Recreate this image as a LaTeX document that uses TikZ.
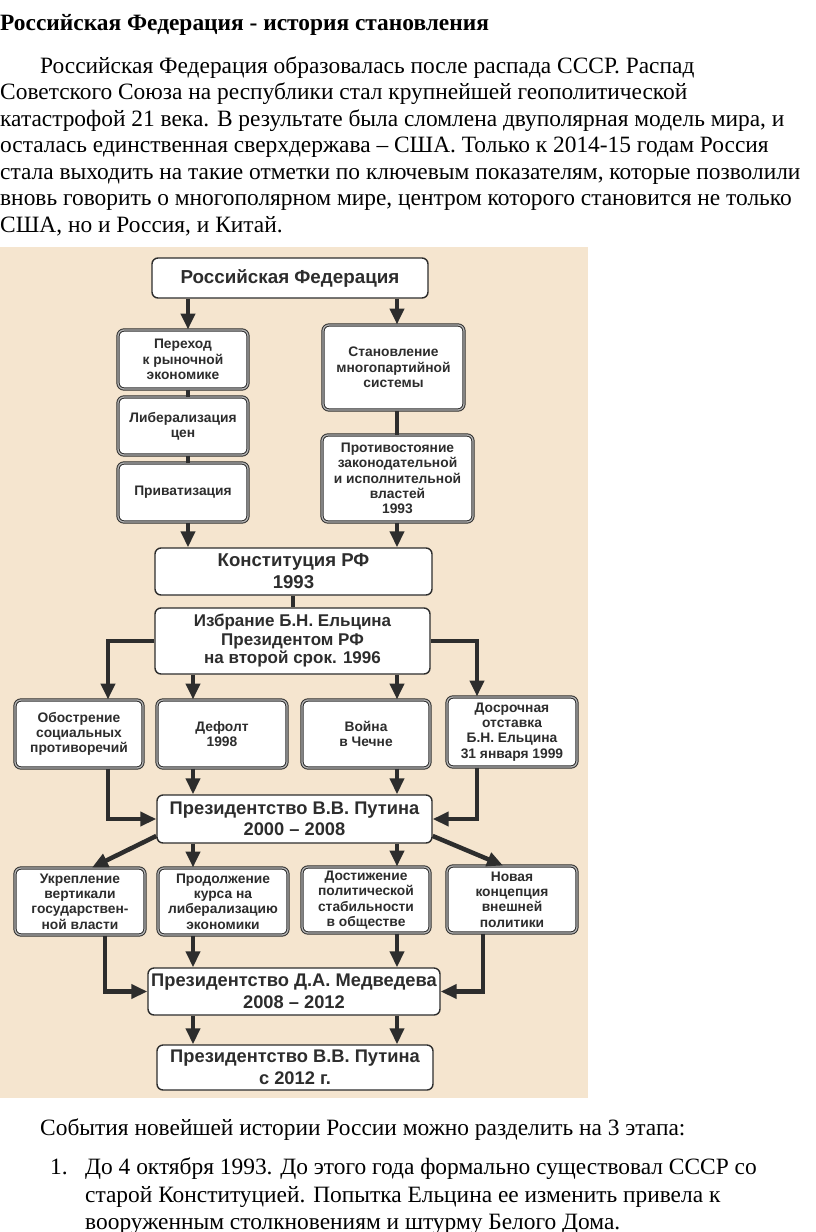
\documentclass[tikz,border=0pt]{standalone}
\usepackage{fontspec}
\setmainfont{Liberation Serif}
\newfontfamily\diagfont{Liberation Sans}
\usetikzlibrary{arrows.meta,calc}
\definecolor{beige}{RGB}{245,229,207}
\definecolor{ink}{RGB}{45,45,45}
\begin{document}
\begin{tikzpicture}[x=1pt,y=-1pt,
  box/.style={draw=ink, line width=1.4pt, rounded corners=6pt, fill=white, inner sep=0pt, align=center, text=ink, font=\diagfont\bfseries\fontsize{18.3}{21.5}\selectfont},
  sbox/.style={box, double=black!30, double distance=1.3pt, line width=1pt, font=\diagfont\bfseries\fontsize{13.8}{15.3}\selectfont},
  arr/.style={draw=ink, line width=4.5pt, -{Triangle[width=14pt,length=16pt]}},
  lnk/.style={draw=ink, line width=4.5pt},
  body/.style={anchor=base west, inner sep=0pt, font=\fontsize{23.4}{27}\selectfont},
]
\useasboundingbox (0,0) rectangle (816,1232);
\fill[white] (0,0) rectangle (816,1232);
% text above
\node[body, font=\bfseries\fontsize{23.4}{27}\selectfont] (title) at (0,30) {Российская Федерация - история становления};
\node[body] (l1) at (40,73) {Российская Федерация образовалась после распада СССР. Распад};
\node[body] (l2) at (0,99.5) {Советского Союза на республики стал крупнейшей геополитической};
\node[body] (l3) at (0,126) {катастрофой 21 века. В результате была сломлена двуполярная модель мира, и};
\node[body] (l4) at (0,152.5) {осталась единственная сверхдержава – США. Только к 2014-15 годам Россия};
\node[body] (l5) at (0,179) {стала выходить на такие отметки по ключевым показателям, которые позволили};
\node[body] (l6) at (0,205.5) {вновь говорить о многополярном мире, центром которого становится не только};
\node[body] (l7) at (0,232) {США, но и Россия, и Китай.};
% background of diagram
\fill[beige] (0,247) rectangle (588,1098);
% boxes
\node[box, minimum width=276pt, minimum height=40pt, font=\diagfont\bfseries\fontsize{18.8}{21}\selectfont] (rf) at (290,278) {Российская Федерация};
\node[sbox, minimum width=130pt, minimum height=59pt] (per) at (183,359.5) {Переход\\к рыночной\\экономике};
\node[sbox, minimum width=130pt, minimum height=58pt] (lib) at (183,426) {Либерализация\\цен};
\node[sbox, minimum width=130pt, minimum height=59pt] (priv) at (183,492.5) {Приватизация};
\node[sbox, minimum width=141pt, minimum height=85pt] (stan) at (393.5,367.5) {Становление\\многопартийной\\системы};
\node[sbox, minimum width=151pt, minimum height=87pt] (prot) at (397.5,478.5) {Противостояние\\законодательной\\и исполнительной\\властей\\1993};
\node[box, minimum width=277pt, minimum height=47pt, font=\diagfont\bfseries\fontsize{18.6}{22}\selectfont] (konst) at (293.5,571.5) {Конституция РФ\\1993};
\node[box, minimum width=275pt, minimum height=66pt, font=\diagfont\bfseries\fontsize{17}{18.5}\selectfont] (izbr) at (292.5,641) {Избрание Б.Н. Ельцина\\Президентом РФ\\на второй срок. 1996};
\node[sbox, minimum width=128pt, minimum height=68pt] (obos) at (79,734) {Обострение\\социальных\\противоречий};
\node[sbox, minimum width=130pt, minimum height=68pt] (def) at (222,734) {Дефолт\\1998};
\node[sbox, minimum width=128pt, minimum height=68pt] (voin) at (366,734) {Война\\в Чечне};
\node[sbox, minimum width=130pt, minimum height=70pt] (dosr) at (512,732) {Досрочная\\отставка\\Б.Н. Ельцина\\31 января 1999};
\node[box, minimum width=275pt, minimum height=48pt] (put1) at (294.5,819) {Президентство В.В. Путина\\2000 – 2008};
\node[sbox, minimum width=130pt, minimum height=67pt] (ukr) at (80,901.5) {Укрепление\\вертикали\\государствен-\\ной власти};
\node[sbox, minimum width=130pt, minimum height=67pt] (prod) at (223,901.5) {Продолжение\\курса на\\либерализацию\\экономики};
\node[sbox, minimum width=128pt, minimum height=66pt] (dost) at (366,900) {Достижение\\политической\\стабильности\\в обществе};
\node[sbox, minimum width=130pt, minimum height=67pt] (nov) at (512,899.5) {Новая\\концепция\\внешней\\политики};
\node[box, minimum width=292pt, minimum height=47pt] (medv) at (294,991.5) {Президентство Д.А. Медведева\\2008 – 2012};
\node[box, minimum width=276pt, minimum height=45pt] (put2) at (295,1067.5) {Президентство В.В. Путина\\с 2012 г.};
% column coordinates
\coordinate (cL) at (188,0);
\coordinate (cM) at (293,0);
\coordinate (cR) at (397,0);
\coordinate (cB) at (193,0);
\coordinate (cOb) at (108,0);
\coordinate (cDo) at (477,0);
\coordinate (cUk) at (105,0);
\coordinate (cNo) at (483,0);
% connectors
\draw[arr] (rf.south -| cL) -- (per.north -| cL);
\draw[arr] (rf.south -| cR) -- (stan.north -| cR);
\draw[lnk] (per.south -| cL) -- (lib.north -| cL);
\draw[lnk] (lib.south -| cL) -- (priv.north -| cL);
\draw[lnk] (stan.south -| cR) -- (prot.north -| cR);
\draw[arr] (priv.south -| cL) -- (konst.north -| cL);
\draw[arr] (prot.south -| cR) -- (konst.north -| cR);
\draw[lnk] (konst.south -| cM) -- (izbr.north -| cM);
\draw[arr] (izbr.west) -| (obos.north -| cOb);
\draw[arr] (izbr.south -| cB) -- (def.north -| cB);
\draw[arr] (izbr.south -| cR) -- (voin.north -| cR);
\draw[arr] (izbr.east) -| (dosr.north -| cDo);
\draw[arr] (obos.south -| cOb) |- (put1.west);
\draw[arr] (def.south -| cB) -- (put1.north -| cB);
\draw[arr] (voin.south -| cR) -- (put1.north -| cR);
\draw[arr] (dosr.south -| cDo) |- (put1.east);
\draw[arr] (put1.187) -- ($(ukr.north)+(12,0)$);
\draw[arr] (put1.south -| cB) -- (prod.north -| cB);
\draw[arr] (put1.south -| cR) -- (dost.north -| cR);
\draw[arr] (put1.353) -- ($(nov.north)+(-9,0)$);
\draw[arr] (ukr.south -| cUk) |- (medv.west);
\draw[arr] (prod.south -| cB) -- (medv.north -| cB);
\draw[arr] (dost.south -| cR) -- (medv.north -| cR);
\draw[arr] (nov.south -| cNo) |- (medv.east);
\draw[arr] (medv.south -| cB) -- (put2.north -| cB);
\draw[arr] (medv.south -| cR) -- (put2.north -| cR);
% text below
\node[body] (b0) at (40,1135) {События новейшей истории России можно разделить на 3 этапа:};
\node[body] (n1) at (50,1174) {1.};
\node[body] (b1) at (85,1174) {До 4 октября 1993. До этого года формально существовал СССР со};
\node[body] (b2) at (85,1202) {старой Конституцией. Попытка Ельцина ее изменить привела к};
\node[body] (b3) at (85,1229) {вооруженным столкновениям и штурму Белого Дома.};
\end{tikzpicture}
\end{document}
